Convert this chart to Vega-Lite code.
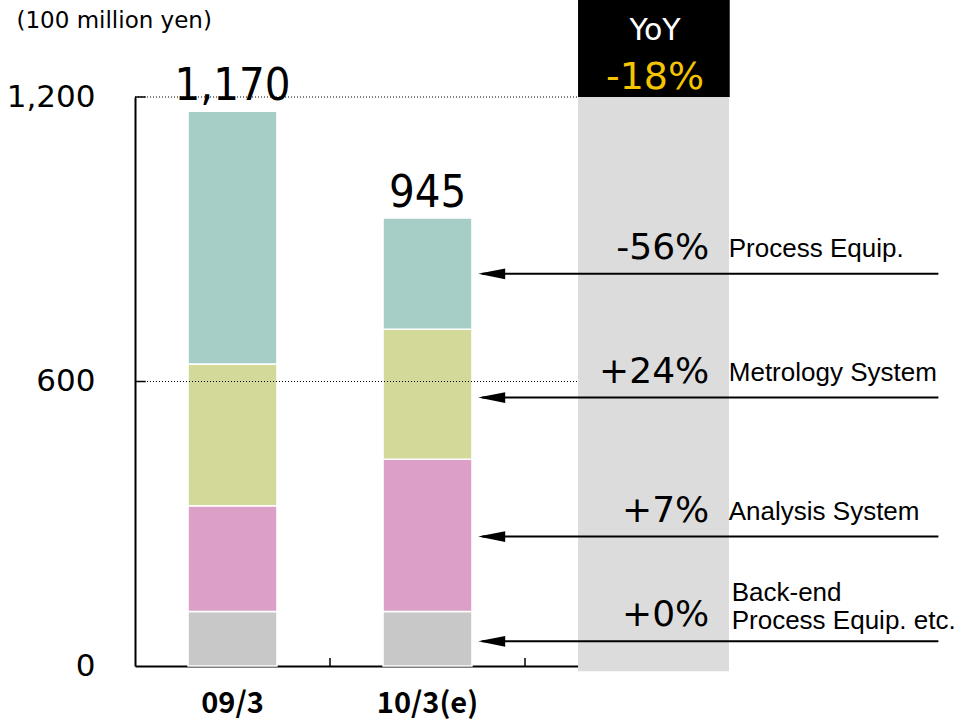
{
  "$schema": "https://vega.github.io/schema/vega-lite/v6.json",
  "width": 825,
  "height": 569,
  "autosize": "none",
  "padding": {"left": 135, "top": 97, "right": 0, "bottom": 55},
  "background": "white",
  "config": {"view": {"stroke": null}, "font": "Liberation Sans"},
  "datasets": {
    "bars": [
      {"period": "09/3", "segment": "Back-end Process Equip. etc.", "order": 1, "value": 115},
      {"period": "09/3", "segment": "Analysis System", "order": 2, "value": 223},
      {"period": "09/3", "segment": "Metrology System", "order": 3, "value": 299},
      {"period": "09/3", "segment": "Process Equip.", "order": 4, "value": 533},
      {"period": "10/3(e)", "segment": "Back-end Process Equip. etc.", "order": 1, "value": 115},
      {"period": "10/3(e)", "segment": "Analysis System", "order": 2, "value": 321},
      {"period": "10/3(e)", "segment": "Metrology System", "order": 3, "value": 274},
      {"period": "10/3(e)", "segment": "Process Equip.", "order": 4, "value": 235}
    ],
    "yoy": [
      {"segment": "Process Equip.", "label": "Process Equip.", "pct": "-56%", "mid": 827},
      {"segment": "Metrology System", "label": "Metrology System", "pct": "+24%", "mid": 566},
      {"segment": "Analysis System", "label": "Analysis System", "pct": "+7%", "mid": 273},
      {"segment": "Back-end Process Equip. etc.", "label": "Back-end\nProcess Equip. etc.", "pct": "+0%", "mid": 52}
    ],
    "grid": [{"v": 600}, {"v": 1200}],
    "xticks": [{"b": 1}, {"b": 2}],
    "one": [{"k": 1}]
  },
  "resolve": {"scale": {"x": "independent"}, "axis": {"x": "independent"}},
  "layer": [
    {
      "data": {"name": "bars"},
      "layer": [
        {
          "mark": {"type": "bar", "stroke": "white", "strokeWidth": 1.5},
          "encoding": {
            "x": {
              "field": "period",
              "type": "nominal",
              "sort": null,
              "scale": {"domain": ["09/3", "10/3(e)", " "], "range": [0, 585], "paddingInner": 0.544, "paddingOuter": 0.272},
              "axis": {
                "title": null,
                "labelAngle": 0,
                "labelFont": "Noto Sans CJK JP",
                "labelFontWeight": "bold",
                "labelFontSize": 29,
                "labelColor": "black",
                "labelPadding": 23,
                "ticks": false,
                "domainColor": "black",
                "domainWidth": 2
              }
            },
            "y": {
              "field": "value",
              "type": "quantitative",
              "stack": "zero",
              "scale": {"domain": [0, 1200], "nice": false},
              "axis": {
                "values": [0, 600, 1200],
                "format": ",.0f",
                "grid": false,
                "labelFont": "DejaVu Sans",
                "labelFontSize": 31,
                "labelColor": "black",
                "labelPadding": 40,
                "ticks": false,
                "domainColor": "black",
                "domainWidth": 2,
                "title": "(100 million yen)",
                "titleAngle": 0,
                "titleX": -119,
                "titleY": -77,
                "titleAlign": "left",
                "titleBaseline": "middle",
                "titleFont": "DejaVu Sans",
                "titleFontSize": 23,
                "titleFontWeight": "normal",
                "titleColor": "black"
              }
            },
            "color": {
              "field": "segment",
              "type": "nominal",
              "scale": {
                "domain": ["Back-end Process Equip. etc.", "Analysis System", "Metrology System", "Process Equip."],
                "range": ["#C8C8C8", "#DCA0C8", "#D2D999", "#A7CEC6"]
              },
              "legend": null
            },
            "order": {"field": "order", "type": "quantitative"}
          }
        },
        {
          "transform": [{"aggregate": [{"op": "sum", "field": "value", "as": "total"}], "groupby": ["period"]}],
          "mark": {"type": "text", "font": "Liberation Sans Narrow, DejaVu Sans Condensed, Liberation Sans", "fontSize": 45, "baseline": "alphabetic", "dy": -11, "color": "black"},
          "encoding": {
            "x": {"field": "period", "type": "nominal", "sort": null},
            "y": {"field": "total", "type": "quantitative", "scale": {"domain": [0, 1200], "nice": false}},
            "text": {"field": "total", "type": "quantitative", "format": ",.0f"}
          }
        }
      ]
    },
    {
      "layer": [
        {
          "data": {"name": "one"},
          "mark": {"type": "rect", "color": "#DCDCDC"},
          "encoding": {
            "x": {"datum": 2.272, "type": "quantitative", "scale": {"domain": [0, 4.2308], "nice": false, "zero": false}, "axis": null},
            "x2": {"datum": 3.046},
            "y": {"datum": -11, "type": "quantitative", "scale": {"domain": [0, 1200], "nice": false}},
            "y2": {"datum": 1200}
          }
        },
        {
          "data": {"name": "one"},
          "mark": {"type": "rect", "color": "black"},
          "encoding": {
            "x": {"datum": 2.272, "type": "quantitative"},
            "x2": {"datum": 3.05},
            "y": {"datum": 1200, "type": "quantitative"},
            "y2": {"datum": 1405}
          }
        },
        {
          "data": {"name": "grid"},
          "mark": {"type": "rule", "color": "black", "strokeWidth": 1, "strokeDash": [1, 2]},
          "encoding": {
            "x": {"datum": 0, "type": "quantitative"},
            "x2": {"datum": 2.272},
            "y": {"field": "v", "type": "quantitative"}
          }
        },
        {
          "data": {"name": "grid"},
          "mark": {"type": "rule", "color": "black", "strokeWidth": 1.5},
          "encoding": {
            "x": {"datum": 0, "type": "quantitative"},
            "x2": {"datum": 0.055},
            "y": {"field": "v", "type": "quantitative"}
          }
        },
        {
          "data": {"name": "xticks"},
          "mark": {"type": "rule", "color": "black", "strokeWidth": 1.5},
          "encoding": {
            "x": {"field": "b", "type": "quantitative"},
            "y": {"datum": 0, "type": "quantitative"},
            "y2": {"datum": 17}
          }
        },
        {
          "data": {"name": "one"},
          "mark": {"type": "text", "font": "DejaVu Sans", "fontSize": 30, "color": "white", "align": "center", "baseline": "alphabetic"},
          "encoding": {
            "x": {"datum": 2.667, "type": "quantitative"},
            "y": {"datum": 1320, "type": "quantitative"},
            "text": {"value": "YoY"}
          }
        },
        {
          "data": {"name": "one"},
          "mark": {"type": "text", "font": "DejaVu Sans", "fontSize": 38, "color": "#F5C400", "align": "center", "baseline": "alphabetic"},
          "encoding": {
            "x": {"datum": 2.667, "type": "quantitative"},
            "y": {"datum": 1217, "type": "quantitative"},
            "text": {"value": "-18%"}
          }
        },
        {
          "data": {"name": "yoy"},
          "mark": {"type": "rule", "color": "black", "strokeWidth": 2},
          "encoding": {
            "x": {"datum": 1.78, "type": "quantitative"},
            "x2": {"datum": 4.12},
            "y": {"field": "mid", "type": "quantitative"}
          }
        },
        {
          "data": {"name": "yoy"},
          "mark": {"type": "point", "shape": "M0,0L2,-0.4L2,0.4Z", "filled": true, "color": "black", "opacity": 1, "size": 729},
          "encoding": {
            "x": {"datum": 1.76, "type": "quantitative"},
            "y": {"field": "mid", "type": "quantitative"}
          }
        },
        {
          "data": {"name": "yoy"},
          "mark": {"type": "text", "font": "DejaVu Sans", "fontSize": 36, "color": "black", "align": "right", "baseline": "alphabetic", "dy": -15},
          "encoding": {
            "x": {"datum": 2.945, "type": "quantitative"},
            "y": {"field": "mid", "type": "quantitative"},
            "text": {"field": "pct", "type": "nominal"}
          }
        },
        {
          "data": {"name": "yoy"},
          "transform": [{"filter": "datum.segment != 'Back-end Process Equip. etc.'"}],
          "mark": {"type": "text", "font": "Liberation Sans", "fontSize": 26, "color": "black", "align": "left", "baseline": "alphabetic", "dy": -17},
          "encoding": {
            "x": {"datum": 3.045, "type": "quantitative"},
            "y": {"field": "mid", "type": "quantitative"},
            "text": {"field": "label", "type": "nominal"}
          }
        },
        {
          "data": {"name": "yoy"},
          "transform": [{"filter": "datum.segment == 'Back-end Process Equip. etc.'"}],
          "mark": {"type": "text", "font": "Liberation Sans", "fontSize": 26, "color": "black", "align": "left", "baseline": "alphabetic", "dy": -40, "lineBreak": "\n", "lineHeight": 28},
          "encoding": {
            "x": {"datum": 3.06, "type": "quantitative"},
            "y": {"field": "mid", "type": "quantitative"},
            "text": {"field": "label", "type": "nominal"}
          }
        }
      ]
    }
  ]
}
